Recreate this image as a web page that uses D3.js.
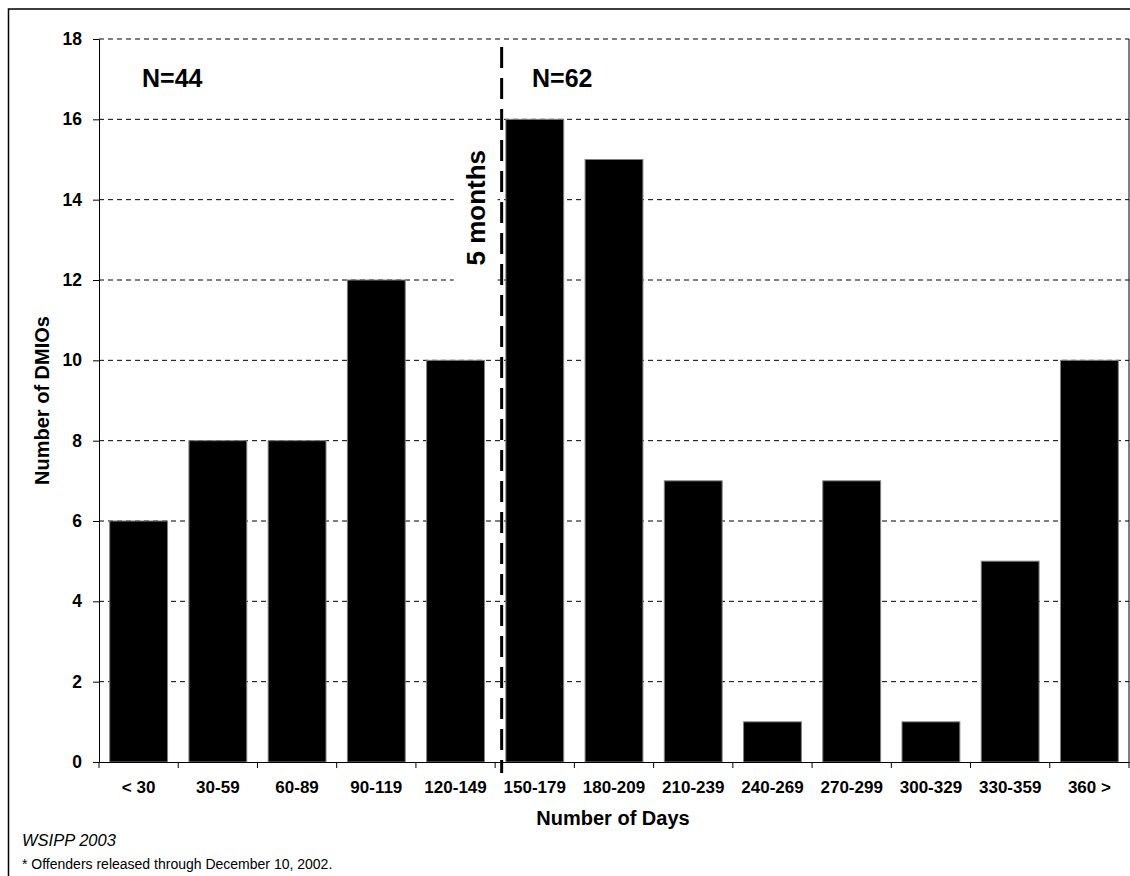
<!DOCTYPE html>
<html><head><meta charset="utf-8">
<script src="https://cdn.jsdelivr.net/npm/d3@7"></script>
<style>
html,body{margin:0;padding:0;background:#fff;}
text{font-family:Arial,"Liberation Sans",sans-serif;}
</style></head>
<body>
<svg id="chart" width="1130" height="876"></svg>
<script>
const categories = ["< 30","30-59","60-89","90-119","120-149","150-179","180-209","210-239","240-269","270-299","300-329","330-359","360 >"];
const counts = [6,8,8,12,10,16,15,7,1,7,1,5,10];
const yTicks = [0,2,4,6,8,10,12,14,16,18];
const groupLabels = ["N=44","N=62"];

const FONT = "Arial, 'Liberation Sans', sans-serif";
const svg = d3.select("#chart");
const m = {left:99, right:1129, top:39, bottom:762};

// outer border
svg.append("rect").attr("x",8.5).attr("y",9).attr("width",1130).attr("height",900)
  .attr("fill","none").attr("stroke","#000").attr("stroke-width",1.5);

const x = d3.scaleBand().domain(categories).range([m.left,m.right]).paddingInner(0.27).paddingOuter(0.135);
const xb = d3.scaleBand().domain(categories).range([m.left,m.right]);
const y = d3.scaleLinear().domain([0,18]).range([m.bottom,m.top]);

// plot border (right side)
svg.append("line").attr("x1",m.right).attr("x2",m.right).attr("y1",m.top).attr("y2",m.bottom)
  .attr("stroke","#000").attr("stroke-width",1);

// gridlines
svg.append("g").selectAll("line").data(yTicks.filter(d=>d>0)).join("line")
  .attr("x1",m.left).attr("x2",m.right).attr("y1",d=>y(d)).attr("y2",d=>y(d))
  .attr("stroke","#000").attr("stroke-width",1).attr("stroke-dasharray","5,4");

// "5 months" label with white background
const boundaryX = xb("150-179") + 6.5;
const lblG = svg.append("g").attr("transform",`translate(${boundaryX-26},${y(13.8)}) rotate(-90)`);
lblG.append("rect").attr("x",-84).attr("y",-22).attr("width",168).attr("height",44).attr("fill","#fff");
lblG.append("text").attr("text-anchor","middle").attr("dy","0.36em")
  .attr("font-size",26).attr("font-weight","bold").text("5 months");

// bars
svg.append("g").selectAll("rect").data(counts).join("rect")
  .attr("x",(d,i)=>x(categories[i])).attr("width",x.bandwidth())
  .attr("y",d=>y(d)).attr("height",d=>y(0)-y(d))
  .attr("fill","#000").attr("stroke","#808080").attr("stroke-width",1);

// axes
const yAxis = d3.axisLeft(y).tickValues(yTicks).tickSize(6).tickSizeOuter(0).tickPadding(11);
const gy = svg.append("g").attr("transform",`translate(${m.left},0)`).call(yAxis);
gy.selectAll("text").attr("font-size",17.5).attr("font-weight","bold").attr("font-family",FONT);

const xAxis = d3.axisBottom(xb).tickSize(0).tickSizeOuter(0).tickPadding(19);
const gx = svg.append("g").attr("transform",`translate(0,${m.bottom})`).call(xAxis);
gx.selectAll("text").attr("font-size",17).attr("font-weight","bold").attr("font-family",FONT);
gx.select(".domain").attr("stroke","#000");
// tick marks at band boundaries
const bounds = [xb(categories[0])].concat(categories.map(d=>xb(d)+xb.bandwidth()));
svg.append("g").selectAll("line").data(bounds).join("line")
  .attr("x1",d=>d).attr("x2",d=>d)
  .attr("y1",m.bottom).attr("y2",m.bottom+6).attr("stroke","#000");

// vertical dashed boundary line
svg.append("line").attr("x1",boundaryX).attr("x2",boundaryX).attr("y1",47).attr("y2",773)
  .attr("stroke","#000").attr("stroke-width",3).attr("stroke-dasharray","21,10");

// group labels
svg.append("text").attr("x",142).attr("y",87).attr("font-size",25).attr("font-weight","bold").text(groupLabels[0]);
svg.append("text").attr("x",532).attr("y",87).attr("font-size",25).attr("font-weight","bold").text(groupLabels[1]);

// axis titles
svg.append("text").attr("x",613).attr("y",825).attr("text-anchor","middle")
  .attr("font-size",20).attr("font-weight","bold").text("Number of Days");
svg.append("text").attr("transform",`translate(49,${(m.top+m.bottom)/2}) rotate(-90)`).attr("text-anchor","middle")
  .attr("font-size",20).attr("font-weight","bold").text("Number of DMIOs");

// footnotes
svg.append("text").attr("x",22).attr("y",846).attr("font-size",16.5).attr("font-style","italic").text("WSIPP 2003");
svg.append("text").attr("x",22).attr("y",869).attr("font-size",14).text("* Offenders released through December 10, 2002.");
</script>
</body></html>
